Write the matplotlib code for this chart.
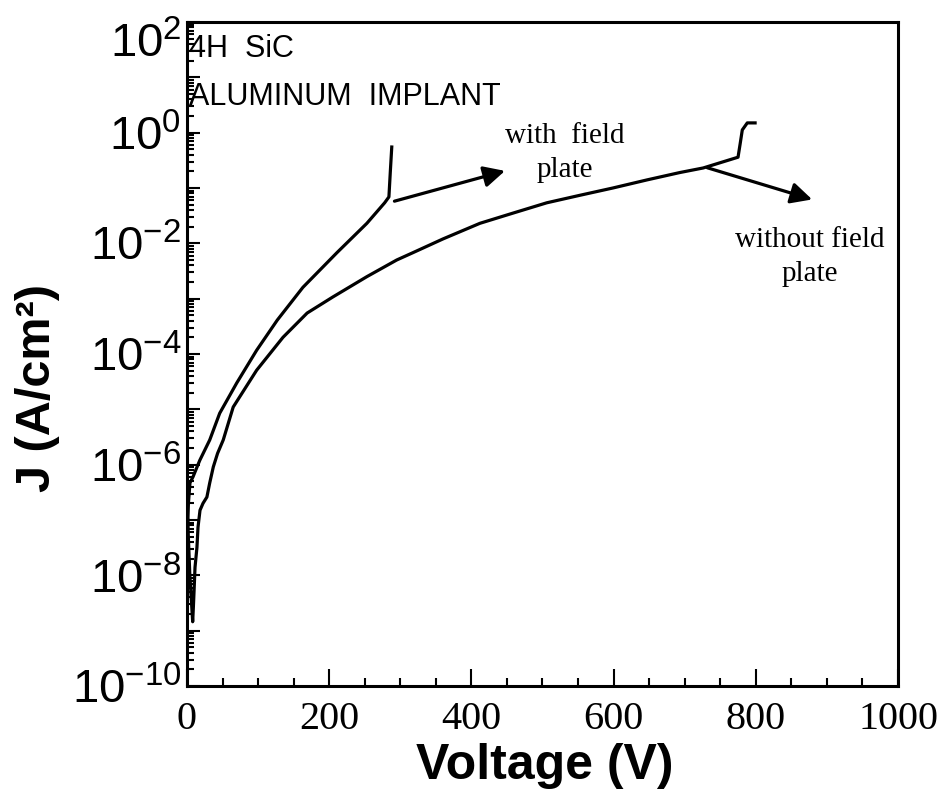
import matplotlib
matplotlib.use('Agg')
import matplotlib.pyplot as plt

# with field plate (upper curve)
v_fp = [0.5, 2, 4.2, 8.4, 18, 32, 46, 70, 98, 127, 163, 211, 253, 278, 284, 286, 288]
j_fp = [5e-8, 2e-7, 4.7e-7, 6e-7, 1.2e-6, 2.8e-6, 8.5e-6, 3.0e-5, 1.17e-4, 4.1e-4,
        1.6e-3, 6.8e-3, 2.3e-2, 5.4e-2, 6.9e-2, 0.2, 0.55]

# without field plate (lower curve)
v_nofp = [1, 4, 8, 9, 10, 11.3, 14, 15.5, 18.3, 22.5, 28, 32, 37, 43, 51, 65, 98, 135,
          169, 205, 253, 295, 318, 360, 412, 458, 506, 553, 599, 647, 693, 726, 775,
          778, 781, 788, 799]
j_nofp = [1e-7, 1e-8, 1.45e-9, 2.7e-9, 5.4e-9, 1.4e-8, 3.2e-8, 7.4e-8, 1.5e-7, 2.0e-7,
          2.6e-7, 4.7e-7, 9.1e-7, 1.6e-6, 2.8e-6, 1.1e-5, 5.1e-5, 2.0e-4, 5.5e-4, 1.07e-3,
          2.5e-3, 5.0e-3, 6.8e-3, 1.2e-2, 2.3e-2, 3.5e-2, 5.4e-2, 7.4e-2, 0.1, 0.14, 0.19,
          0.23, 0.36, 0.63, 1.12, 1.5, 1.5]

xticks = [0, 200, 400, 600, 800, 1000]
ydecades = list(range(-10, 3))
ylabels = ['$10^{%d}$' % e if e % 2 == 0 else '' for e in ydecades]

plt.rcParams['mathtext.default'] = 'regular'
plt.rcParams['font.family'] = 'Liberation Sans'

fig = plt.figure(figsize=(9.42, 8.02), dpi=100)
ax = fig.add_axes([0.1985, 0.1446, 0.7548, 0.828])

ax.plot(v_fp, j_fp, color='black', lw=2.3, solid_joinstyle='round')
ax.plot(v_nofp, j_nofp, color='black', lw=2.3, solid_joinstyle='round')

ax.set_yscale('log')
ax.set_xlim(0, 1000)
ax.set_ylim(1e-10, 1e2)

ax.set_xticks(xticks)
ax.set_xticklabels([str(t) for t in xticks], family='Liberation Serif', fontsize=29)
ax.set_xticks(range(0, 1001, 50), minor=True)
ax.set_yticks([10.0 ** e for e in ydecades])
ax.set_yticklabels(ylabels, fontsize=34)
ax.yaxis.set_minor_locator(matplotlib.ticker.LogLocator(subs=range(2, 10), numticks=20))
ax.yaxis.set_minor_formatter(matplotlib.ticker.NullFormatter())

ax.tick_params(which='both', direction='in', top=False, right=False, width=1.5)
ax.tick_params(axis='x', which='major', length=12, pad=11)
ax.tick_params(axis='x', which='minor', length=6)
ax.tick_params(axis='y', which='major', length=9, pad=4)
ax.tick_params(axis='y', which='minor', length=5)
ax.yaxis.get_major_ticks()[-1].label1.set_verticalalignment('top')

for s in ax.spines.values():
    s.set_linewidth(2.2)

ax.set_xlabel('Voltage (V)', fontsize=36, fontweight='bold')
ax.xaxis.set_label_coords(0.503, -0.086)
ax.set_ylabel('J (A/cm²)', fontsize=35, fontweight='bold')
ax.yaxis.set_label_coords(-0.178, 0.449)

ax.text(0.003, 0.947, '4H  SiC', transform=ax.transAxes, fontsize=22, va='baseline')
ax.text(0.003, 0.875, 'ALUMINUM  IMPLANT', transform=ax.transAxes, fontsize=22, va='baseline')

ax.annotate('', xy=(451, 0.21), xytext=(288, 0.056),
            arrowprops=dict(arrowstyle='-|>', color='black', lw=2.3, mutation_scale=32))
ax.annotate('', xy=(883, 0.06), xytext=(728, 0.24),
            arrowprops=dict(arrowstyle='-|>', color='black', lw=2.3, mutation_scale=32))

ax.text(531, 0.42, 'with  field\nplate', family='Liberation Serif', fontsize=21,
        ha='center', va='center', linespacing=1.4)
ax.text(876, 5.6e-3, 'without field\nplate', family='Liberation Serif', fontsize=21,
        ha='center', va='center', linespacing=1.4)

fig.savefig('out.png', dpi=100)
